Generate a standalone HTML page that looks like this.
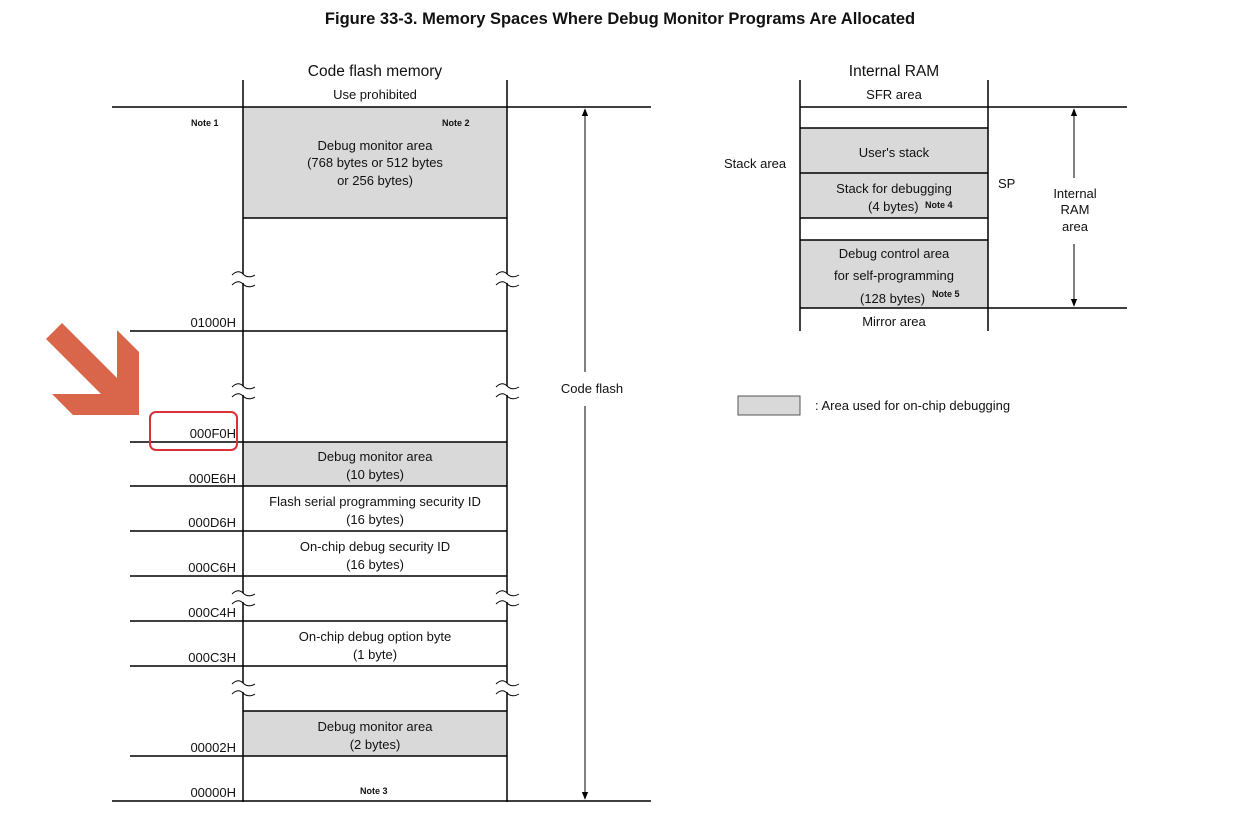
<!DOCTYPE html>
<html><head><meta charset="utf-8"><style>
html,body{margin:0;padding:0;background:#fff}
svg{display:block}
text{font-family:"Liberation Sans",Arial,sans-serif;fill:#111}
</style></head><body>
<svg width="1239" height="822" viewBox="0 0 1239 822" xmlns="http://www.w3.org/2000/svg">
<defs>
<marker id="ah" viewBox="0 0 10 10" refX="9" refY="5" markerWidth="8" markerHeight="10" orient="auto-start-reverse" markerUnits="userSpaceOnUse"><path d="M0,1 L10,5 L0,9 z" fill="#000"/></marker>
</defs>
<text x="620" y="24" font-size="16.5" font-weight="bold" text-anchor="middle">Figure 33-3.  Memory Spaces Where Debug Monitor Programs Are Allocated</text>

<g fill="#d9d9d9">
<rect x="243" y="107" width="264" height="111"/>
<rect x="243" y="442" width="264" height="44"/>
<rect x="243" y="711" width="264" height="45"/>
<rect x="800" y="128" width="188" height="90"/>
<rect x="800" y="240" width="188" height="68"/>
<rect x="738" y="396" width="62" height="19" stroke="#555" stroke-width="1"/>
</g>

<g stroke="#000" stroke-width="1.5" fill="none">
<line x1="243" y1="80" x2="243" y2="802"/>
<line x1="507" y1="80" x2="507" y2="802"/>
<line x1="112" y1="107" x2="651" y2="107"/>
<line x1="243" y1="218" x2="507" y2="218"/>
<line x1="130" y1="331" x2="507" y2="331"/>
<line x1="130" y1="442" x2="507" y2="442"/>
<line x1="130" y1="486" x2="507" y2="486"/>
<line x1="130" y1="531" x2="507" y2="531"/>
<line x1="130" y1="576" x2="507" y2="576"/>
<line x1="130" y1="621" x2="507" y2="621"/>
<line x1="130" y1="666" x2="507" y2="666"/>
<line x1="243" y1="711" x2="507" y2="711"/>
<line x1="130" y1="756" x2="507" y2="756"/>
<line x1="112" y1="801" x2="651" y2="801"/>

<line x1="800" y1="80" x2="800" y2="331"/>
<line x1="988" y1="80" x2="988" y2="331"/>
<line x1="800" y1="107" x2="1127" y2="107"/>
<line x1="800" y1="128" x2="988" y2="128"/>
<line x1="800" y1="173" x2="988" y2="173"/>
<line x1="800" y1="218" x2="988" y2="218"/>
<line x1="800" y1="240" x2="988" y2="240"/>
<line x1="800" y1="308" x2="1127" y2="308"/>
</g>

<g stroke="#000" stroke-width="1" fill="none">
<line x1="585" y1="109" x2="585" y2="799" marker-start="url(#ah)" marker-end="url(#ah)"/>
<line x1="1074" y1="109" x2="1074" y2="178" marker-start="url(#ah)"/>
<line x1="1074" y1="244" x2="1074" y2="306" marker-end="url(#ah)"/>
</g>
<rect x="555" y="372" width="75" height="34" fill="#fff"/>

<g id="brk">
<rect x="236" y="274" width="14" height="9" fill="#fff"/>
<path d="M232,275 q6,-6 11,-1 t12,1 M232,285 q6,-6 11,-1 t12,1" stroke="#000" stroke-width="1" fill="none"/>
</g>
<use href="#brk" transform="translate(264,0)"/>
<use href="#brk" transform="translate(0,112)"/>
<use href="#brk" transform="translate(264,112)"/>
<use href="#brk" transform="translate(0,319)"/>
<use href="#brk" transform="translate(264,319)"/>
<use href="#brk" transform="translate(0,409)"/>
<use href="#brk" transform="translate(264,409)"/>

<g font-size="13" text-anchor="middle">
<text x="375" y="76" font-size="15.5">Code flash memory</text>
<text x="375" y="99">Use prohibited</text>
<text x="375" y="150">Debug monitor area</text>
<text x="375" y="167">(768 bytes or 512 bytes</text>
<text x="375" y="185">or 256 bytes)</text>
<text x="375" y="461">Debug monitor area</text>
<text x="375" y="479">(10 bytes)</text>
<text x="375" y="506">Flash serial programming security ID</text>
<text x="375" y="524">(16 bytes)</text>
<text x="375" y="551">On-chip debug security ID</text>
<text x="375" y="569">(16 bytes)</text>
<text x="375" y="641">On-chip debug option byte</text>
<text x="375" y="659">(1 byte)</text>
<text x="375" y="731">Debug monitor area</text>
<text x="375" y="749">(2 bytes)</text>
<text x="592" y="393">Code flash</text>

<text x="894" y="76" font-size="15.5">Internal RAM</text>
<text x="894" y="99">SFR area</text>
<text x="894" y="157">User's stack</text>
<text x="894" y="193">Stack for debugging</text>
<text x="894" y="258">Debug control area</text>
<text x="894" y="280">for self-programming</text>
<text x="894" y="326">Mirror area</text>
<text x="1075" y="198">Internal</text>
<text x="1075" y="214">RAM</text>
<text x="1075" y="231">area</text>
</g>
<g font-size="13">
<text x="868" y="211">(4 bytes)</text>
<text x="860" y="303">(128 bytes)</text>
<text x="724" y="168">Stack area</text>
<text x="998" y="188">SP</text>
<text x="815" y="410">: Area used for on-chip debugging</text>
</g>
<g font-size="9" font-weight="bold">
<text x="191" y="126">Note 1</text>
<text x="442" y="126">Note 2</text>
<text x="360" y="794">Note 3</text>
<text x="925" y="208">Note 4</text>
<text x="932" y="297">Note 5</text>
</g>
<g font-size="13" text-anchor="end">
<text x="236" y="327">01000H</text>
<text x="236" y="438">000F0H</text>
<text x="236" y="483">000E6H</text>
<text x="236" y="527">000D6H</text>
<text x="236" y="572">000C6H</text>
<text x="236" y="617">000C4H</text>
<text x="236" y="662">000C3H</text>
<text x="236" y="752">00002H</text>
<text x="236" y="797">00000H</text>
</g>

<rect x="150" y="412" width="87" height="38" rx="6" fill="none" stroke="#d9303a" stroke-width="2"/>
<polygon points="62,323 117,378 117,330 139,352 139,415 73,415 52,394 101,394 46,339" fill="#d9654a"/>
</svg>
</body></html>
